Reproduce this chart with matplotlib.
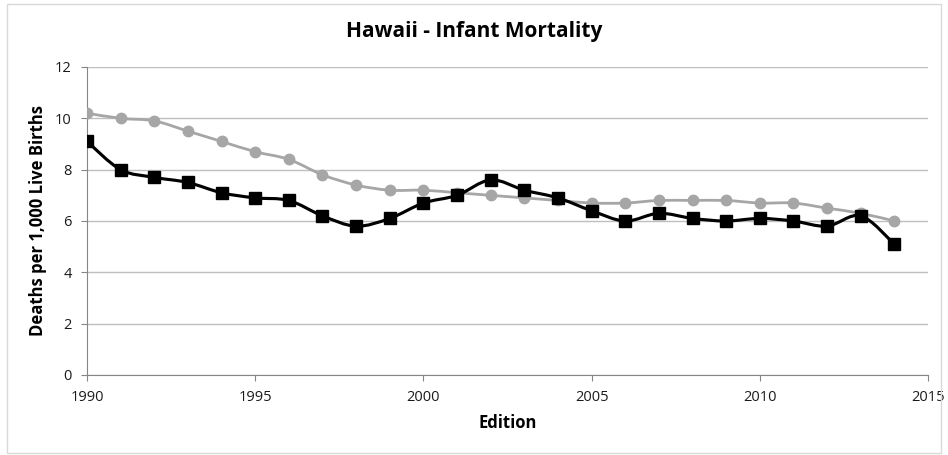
import numpy as np
from matplotlib import pyplot as plt
from matplotlib.patches import Rectangle, PathPatch
from matplotlib.path import Path

#==============================================================================
# data
years = list(range(1990, 2015))
hawaii = [9.1, 8.0, 7.7, 7.5, 7.1, 6.9, 6.8, 6.2, 5.8, 6.1, 6.7, 7.0, 7.6,
          7.2, 6.9, 6.4, 6.0, 6.3, 6.1, 6.0, 6.1, 6.0, 5.8, 6.2, 5.1]
us = [10.2, 10.0, 9.9, 9.5, 9.1, 8.7, 8.4, 7.8, 7.4, 7.2, 7.2, 7.1, 7.0,
      6.9, 6.8, 6.7, 6.7, 6.8, 6.8, 6.8, 6.7, 6.7, 6.5, 6.3, 6.0]
x_ticks = [1990, 1995, 2000, 2005, 2010, 2015]
y_ticks = [0, 2, 4, 6, 8, 10, 12]

#==============================================================================
def smooth_path(x, y):
    # excel style smoothed line: bezier segments through the data points
    p = np.column_stack([x, y]).astype(float)
    n = len(p)
    verts = [p[0]]
    codes = [Path.MOVETO]
    for i in range(n - 1):
        p0 = p[i - 1] if i > 0 else p[i]
        p3 = p[i + 2] if i + 2 < n else p[i + 1]
        c1 = p[i] + (p[i + 1] - p0) / 6.0
        c2 = p[i + 1] - (p3 - p[i]) / 6.0
        verts += [c1, c2, p[i + 1]]
        codes += [Path.CURVE4] * 3
    return Path(verts, codes)

plt.rcParams['font.family'] = ['Open Sans', 'DejaVu Sans']

fig = plt.figure(figsize=(9.48, 4.55), dpi=100)
fig.patches.append(Rectangle((7/948, 2/455), 934/948, 449/455, transform=fig.transFigure,
                             fill=False, edgecolor='#d9d9d9', linewidth=1))
ax = fig.add_axes([87/948, 80/455, 841/948, 308/455])

ax.add_patch(PathPatch(smooth_path(years, us), fill=False, edgecolor='#a6a6a6',
                       linewidth=2.0, zorder=3, capstyle='round', joinstyle='round'))
ax.plot(years, us, color='#a6a6a6', linestyle='none', marker='o', markersize=7.5,
        zorder=3)
ax.add_patch(PathPatch(smooth_path(years, hawaii), fill=False, edgecolor='black',
                       linewidth=2.25, zorder=4, capstyle='round', joinstyle='round'))
ax.plot(years, hawaii, color='black', linestyle='none', marker='s', markersize=8.5,
        zorder=4)

ax.set_xlim(1990, 2015)
ax.set_ylim(0, 12)
ax.set_xticks(x_ticks)
ax.set_yticks(y_ticks)
ax.tick_params(labelsize=10.5, length=4, pad=7, color='#868686', labelcolor='#1a1a1a')
ax.grid(True, axis='y', color='#bfbfbf', linewidth=1)
ax.set_axisbelow(True)
for s in ['top', 'right']:
    ax.spines[s].set_visible(False)
for s in ['left', 'bottom']:
    ax.spines[s].set_color('#868686')

ax.set_xlabel('Edition', fontsize=12, fontweight='bold', labelpad=6)
ax.set_ylabel('Deaths per 1,000 Live Births', fontsize=12, fontweight='bold', labelpad=6)
fig.text(0.5, (455-31)/455, 'Hawaii - Infant Mortality', ha='center', va='center',
         fontsize=15, fontweight='bold')

plt.savefig('out.png', dpi=100)
